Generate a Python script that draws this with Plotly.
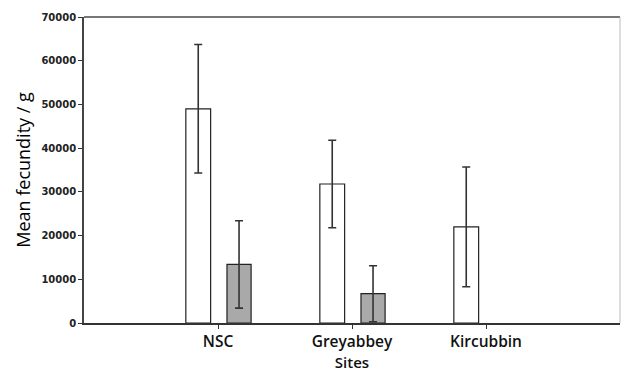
import plotly.graph_objects as go

sites = ["NSC", "Greyabbey", "Kircubbin"]
site_pos = [1, 2, 3]
white_mean = [49000, 31800, 22000]
white_err = [14700, 10000, 13700]
grey_mean = [13400, 6700, None]
grey_err = [10000, 6400, None]
y_ticks = [0, 10000, 20000, 30000, 40000, 50000, 60000, 70000]

fig = go.Figure()
fig.add_trace(go.Bar(
    x=site_pos, y=white_mean, offset=-0.24, width=0.185,
    marker=dict(color="white", line=dict(color="#222", width=1.2)),
    error_y=dict(type="data", array=white_err, visible=True,
                 color="#333", thickness=1.6, width=4),
    showlegend=False,
))
fig.add_trace(go.Bar(
    x=site_pos, y=grey_mean, offset=0.067, width=0.18,
    marker=dict(color="#a9a9a9", line=dict(color="#222", width=1.2)),
    error_y=dict(type="data", array=grey_err, visible=True,
                 color="#333", thickness=1.6, width=4),
    showlegend=False,
))

fig.update_layout(
    width=621, height=374,
    margin=dict(l=84, r=1, t=17, b=51),
    paper_bgcolor="white", plot_bgcolor="white",
    barmode="overlay",
    font=dict(family="Open Sans", color="#111"),
    xaxis=dict(
        range=[0, 4], tickvals=site_pos, ticktext=sites,
        ticks="outside", ticklen=4, tickwidth=1.2, tickcolor="#333",
        showline=True, linecolor="#333", linewidth=1.6,
        showgrid=False, zeroline=False,
        tickfont=dict(size=15.5, family="Open Sans", weight=600, color="#111"),
        title=dict(text="Sites", font=dict(size=15, family="Open Sans", weight=600, color="#111"), standoff=5),
    ),
    yaxis=dict(
        range=[0, 70000], tickvals=y_ticks, ticktext=[str(v) for v in y_ticks],
        ticks="outside", ticklen=4, tickwidth=1.2, tickcolor="#333",
        showline=True, linecolor="#444", linewidth=1.6,
        showgrid=False, zeroline=False,
        tickfont=dict(size=10, family="DejaVu Sans", weight="bold", color="#222"),
        title=dict(text="Mean fecundity / g", font=dict(size=18, family="Open Sans", color="#000"), standoff=6),
    ),
    shapes=[
        dict(type="line", xref="paper", yref="paper", x0=0, x1=1, y0=1, y1=1,
             line=dict(color="#777", width=2)),
        dict(type="line", xref="paper", yref="paper", x0=1, x1=1, y0=0, y1=1,
             line=dict(color="#bbb", width=1)),
    ],
)

fig.write_html("out.html")
